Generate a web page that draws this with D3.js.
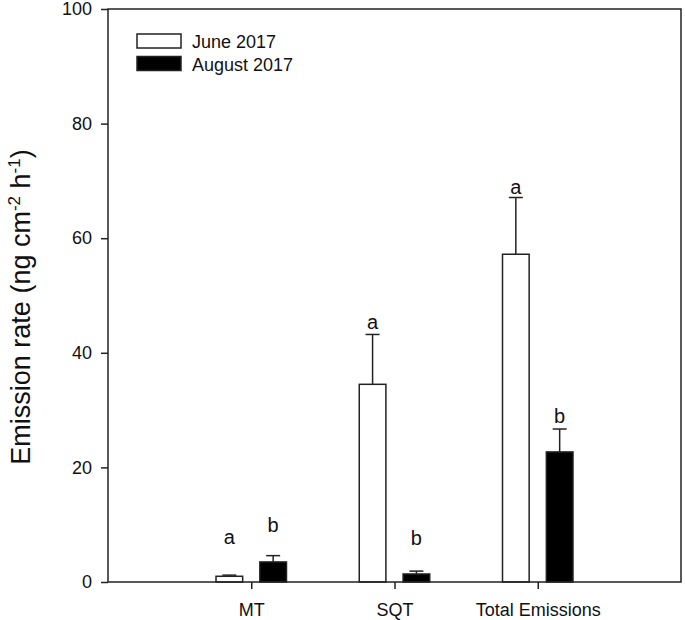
<!DOCTYPE html>
<html>
<head>
<meta charset="utf-8">
<script src="https://cdn.jsdelivr.net/npm/d3@7"></script>
<style>
    body { margin: 0; background: #fff; }
    svg text { font-family: "Liberation Sans", Arial, sans-serif; fill: #111; }
</style>
</head>
<body>
<svg id="chart" width="685" height="620"></svg>
<script>
// categories and series values (ng cm-2 h-1)
const categories = ["MT", "SQT", "Total Emissions"];
const seriesNames = ["June 2017", "August 2017"];
const juneMean = [1.0, 34.5, 57.2];
const juneErr = [0.2, 8.7, 9.9];
const augMean = [3.5, 1.4, 22.7];
const augErr = [1.1, 0.5, 4.0];
// significance letters and their heights (in y units)
const juneLetters = ["a", "a", "a"];
const augLetters = ["b", "b", "b"];
const juneLetterY = [6.6, 44.1, 67.7];
const augLetterY = [8.7, 6.4, 27.7];
const yTicks = [0, 20, 40, 60, 80, 100];

const margin = { top: 9, right: 4, bottom: 38, left: 108 },
    width = 685 - margin.left - margin.right,
    height = 620 - margin.top - margin.bottom,
    lineColour = "#222";

const svg = d3.select("#chart");
const g = svg.append("g")
    .attr("transform", `translate(${margin.left},${margin.top})`);

// category index on a linear scale, 4 units across the frame
const x = d3.scaleLinear().domain([0, 4]).range([0, width]);
const y = d3.scaleLinear().domain([0, 100]).range([height, 0]);

const barW = 0.186, gap = 0.06;

const bars = [];
categories.forEach((c, i) => {
    bars.push({ cat: i, x0: i + 1 - gap - barW, v: juneMean[i], e: juneErr[i], fill: "#fff", letter: juneLetters[i], ly: juneLetterY[i] });
    bars.push({ cat: i, x0: i + 1 + gap, v: augMean[i], e: augErr[i], fill: "#000", letter: augLetters[i], ly: augLetterY[i] });
});

// error bars (upper only)
const err = g.append("g").attr("stroke", lineColour).attr("stroke-width", 1.5);
bars.forEach(d => {
    const cx = x(d.x0 + barW / 2);
    err.append("line")
        .attr("x1", cx).attr("x2", cx)
        .attr("y1", y(d.v)).attr("y2", y(d.v + d.e));
    err.append("line")
        .attr("x1", cx - 7).attr("x2", cx + 7)
        .attr("y1", y(d.v + d.e)).attr("y2", y(d.v + d.e));
});

g.append("g")
    .selectAll("rect")
    .data(bars)
    .enter()
    .append("rect")
    .attr("x", d => x(d.x0))
    .attr("y", d => y(d.v))
    .attr("width", x(barW) - x(0))
    .attr("height", d => y(0) - y(d.v))
    .attr("fill", d => d.fill)
    .attr("stroke", lineColour)
    .attr("stroke-width", 1.5);

g.append("g")
    .selectAll("text")
    .data(bars)
    .enter()
    .append("text")
    .attr("x", d => x(d.x0 + barW / 2))
    .attr("y", d => y(d.ly))
    .attr("text-anchor", "middle")
    .style("font-size", "20px")
    .text(d => d.letter);

// frame
g.append("rect")
    .attr("width", width)
    .attr("height", height)
    .attr("fill", "none")
    .attr("stroke", lineColour)
    .attr("stroke-width", 1.5);

const yAxis = g.append("g")
    .call(d3.axisLeft(y).tickValues(yTicks).tickSize(7).tickPadding(9).tickSizeOuter(0));
const xAxis = g.append("g")
    .attr("transform", `translate(0,${height})`)
    .call(d3.axisBottom(x).tickValues([1, 2, 3]).tickFormat(i => categories[i - 1])
        .tickSize(7).tickPadding(14).tickSizeOuter(0));

[yAxis, xAxis].forEach(a => {
    a.select(".domain").remove();
    a.selectAll("line").attr("stroke", lineColour).attr("stroke-width", 1.5);
    a.selectAll("text").style("font-size", "18px").attr("fill", "#111");
});

// y axis title
const title = svg.append("text")
    .attr("transform", "translate(30,307) rotate(-90)")
    .attr("text-anchor", "middle")
    .style("font-size", "27px");
title.append("tspan").text("Emission rate (ng cm");
title.append("tspan").attr("dy", -10).style("font-size", "17px").text("-2");
title.append("tspan").attr("dy", 10).text(" h");
title.append("tspan").attr("dy", -10).style("font-size", "17px").text("-1");
title.append("tspan").attr("dy", 10).text(")");

// legend
const legend = svg.append("g").attr("transform", "translate(137,34)");
seriesNames.forEach((name, i) => {
    const row = legend.append("g").attr("transform", `translate(0,${i * 22.5})`);
    row.append("rect")
        .attr("width", 44).attr("height", 14)
        .attr("fill", i === 0 ? "#fff" : "#000")
        .attr("stroke", lineColour).attr("stroke-width", 1.5);
    row.append("text")
        .attr("x", 55).attr("y", 14)
        .style("font-size", "18px")
        .text(name);
});
</script>
</body>
</html>
